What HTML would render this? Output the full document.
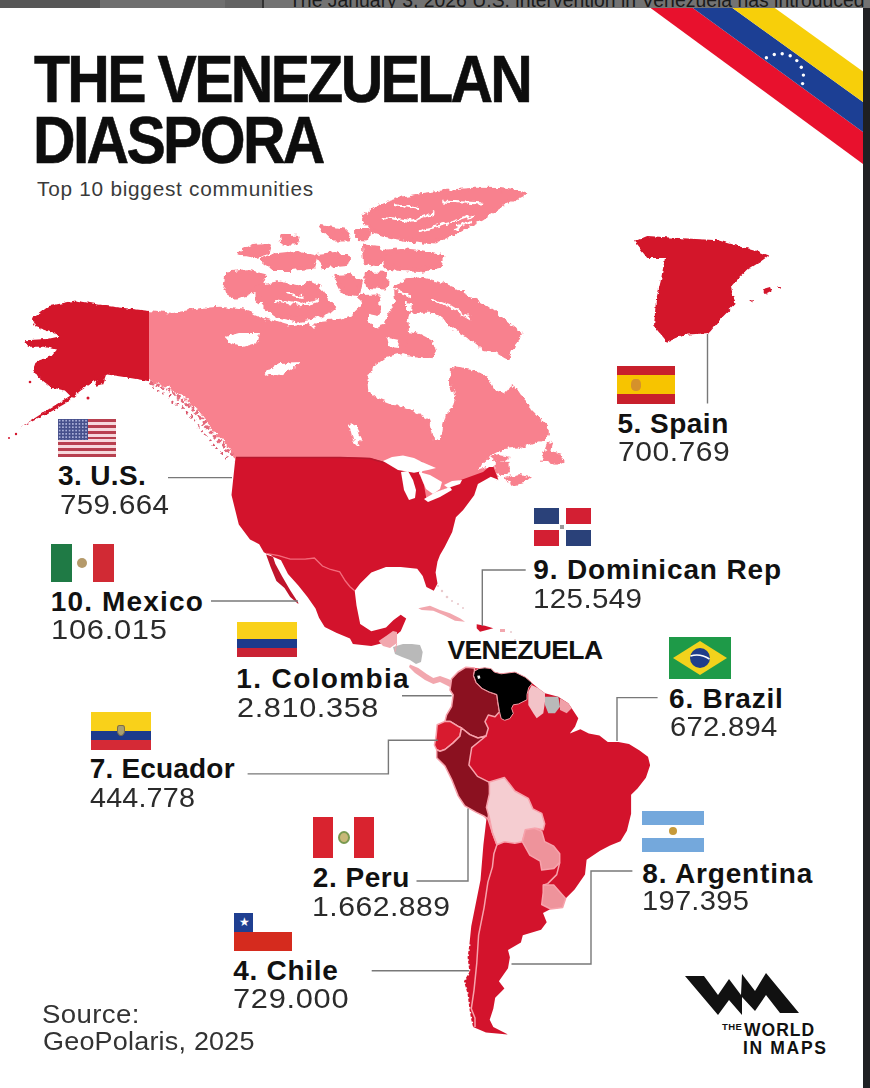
<!DOCTYPE html>
<html><head><meta charset="utf-8">
<style>
html,body{margin:0;padding:0;background:#fff;}
body{width:870px;height:1088px;position:relative;overflow:hidden;font-family:"Liberation Sans",sans-serif;}
.t{position:absolute;white-space:nowrap;line-height:1;}
.lb{font-weight:bold;font-size:27px;color:#111;letter-spacing:0.4px;}
.nm{font-size:27px;color:#2a2a2a;letter-spacing:1.5px;}
.flag{position:absolute;overflow:hidden;}
svg{position:absolute;left:0;top:0;}
</style></head><body>
<!-- top bar -->
<div style="position:absolute;left:0;top:0;width:870px;height:8px;background:linear-gradient(90deg,#575757 0 100px,#6f6f6f 100px 225px,#636363 225px 262px,#333 262px 264px,#737373 264px);overflow:hidden;">
  <div class="t" style="left:289px;top:-8.6px;font-size:19.4px;color:#1a1a1a;">The January 3, 2026 U.S. intervention in Venezuela has introduced</div>
</div>
<div style="position:absolute;left:863px;top:8px;width:7px;height:1080px;background:#1f2023;"></div>

<svg width="870" height="1088" viewBox="0 0 870 1088" id="map">
  <!-- Venezuela ribbon -->
  <g>
    <polygon points="650.6,8 692.9,8 863,132 863,164" fill="#e8112d"/>
    <polygon points="692.9,8 732.5,8 863,102 863,132" fill="#1c3f94"/>
    <polygon points="732.5,8 774.8,8 863,71.4 863,102" fill="#f7cf0a"/>
    <g fill="#fff"><circle cx="766.4" cy="57.7" r="1.7"/><circle cx="774.3" cy="54.5" r="1.7"/><circle cx="782.2" cy="53.7" r="1.7"/><circle cx="790.2" cy="55.8" r="1.7"/><circle cx="796.8" cy="60.6" r="1.7"/><circle cx="801.3" cy="67.2" r="1.7"/><circle cx="803.4" cy="75.1" r="1.7"/><circle cx="802.6" cy="83.6" r="1.7"/></g>
  </g>
  <!--MAP-->
<defs><filter id="rag" x="-5%" y="-5%" width="110%" height="110%"><feTurbulence type="fractalNoise" baseFrequency="0.15" numOctaves="3" seed="4"/><feDisplacementMap in="SourceGraphic" scale="7" xChannelSelector="R" yChannelSelector="G"/></filter>
<clipPath id="cE"><rect x="149" y="0" width="721" height="1088"/></clipPath><clipPath id="cW"><rect x="0" y="0" width="149" height="1088"/></clipPath><filter id="rag2" x="-5%" y="-5%" width="110%" height="110%"><feTurbulence type="fractalNoise" baseFrequency="0.2" numOctaves="2" seed="9"/><feDisplacementMap in="SourceGraphic" scale="4" xChannelSelector="R" yChannelSelector="G"/></filter></defs>
<g clip-path="url(#cE)"><g filter="url(#rag)">
<polygon points="143,310 149,310 173,313 200,308 220,306.7 243,309.5 266,318.7 289,325.6 307.4,323.3 312,328 318.9,321 339.5,318.7 353.3,314.1 362.5,305 376.3,311.8 385.5,318.7 391,310 395,300 393.5,285.5 405.9,278.3 422.4,277.2 439,281.4 453.5,287.6 470,295.9 484.5,304.1 499,314.5 511.4,324.8 523.5,334.5 515,345 509,360 509,368 505,372 511,385 517.2,389.3 525.5,401.7 533.8,412 540,418.3 549.8,428.3 549.8,436.3 540.1,441.2 530.5,444.4 517.6,447.6 503.1,449.2 491.8,455.6 482.2,463.7 479,470.1 487,466.9 493.5,466.9 498.3,479.8 489,472 483,477 459.5,485.5 448.5,492.8 440,496 426.4,503.8 424,490 419,478 422.7,467 400.7,461.5 384,467 370,463 340,462 236.6,462 234,457 228.3,447.2 217.2,434.8 209,425.2 199.3,411.4 188.3,401.7 174.5,390.7 160.7,383.8 149,381 143,381" fill="#f8818e" />
<polygon points="409.7,312.8 432.4,312.8 447,323 457.2,331.4 467.6,337.6 484,350 494.5,352 504.8,358.3 509,360 530,350 530,380 511,385.2 504.8,393.5 494.5,389.3 488.3,377 475.9,370.7 463.5,368.6 451,367 450,381 455,398 452,408 446,414 443,426 440.5,441 433,440 429,420 415,412 393,404 376.6,397.5 368.3,391 367.5,381 373.5,367 384.8,358.3 401.4,354.2 413.8,356.3 432.4,358.3 436,352 432,340 420,334 408,332 407.6,320" fill="#fff" />
<polygon points="407.6,339.7 420,336 432.4,343 434,352 428,358 413.8,356 405,350" fill="#f8818e" />
<polygon points="387,337.6 399,340 398,348 389,347" fill="#fff" />
<polygon points="406,302 412,303 411,311 406,310" fill="#fff" />
<polygon points="368,306 380,302 387,310 385,325 375,328 368,320" fill="#fff" />
<polygon points="490,457 500,455 511,457 505,461 495,461" fill="#f8818e" />
<polygon points="495,461 509.5,462 510,474 500,476 494,470" fill="#f8818e" />
<polygon points="504.7,478 520,474 531,477 524,483 510,486" fill="#f8818e" />
<polygon points="540.1,462.1 546.6,444.4 553,441.2 551.4,450.8 561,454 562.6,460.5 556.2,463.7 546.6,462.1" fill="#f8818e" />
<polyline points="150,383 161,386.5 173,393 186,403.5 197,413 207,427 215,436.5 226,449 234,457" fill="none" stroke="#e46a7c" stroke-width="3.5" stroke-dasharray="4 2"/>
<polyline points="152,388 160,392 170,398 182,408 192,417 201,430 209,440 218,450 226,459" fill="none" stroke="#d9556a" stroke-width="2" stroke-dasharray="2 4"/>
<polygon points="364,217 374,209 387.6,203.4 405,198 418.8,195.6 445,192 473.5,189.8 500,190 524.3,193.7 505,203 481.4,219 465,227 450,234.7 434.5,242.5 418,241 403.2,238.6 385,235 372,230.8" fill="#f8818e" stroke="#f8818e" stroke-width="4" stroke-linejoin="round"/>
<polygon points="383.7,252 400,250 420,252 442.3,256 440,266 420,270 400,269 386,266" fill="#f8818e" stroke="#f8818e" stroke-width="4" stroke-linejoin="round"/>
<polygon points="239,252.9 252.9,246 269,244.8 266.7,252.9 255.2,256.3" fill="#f8818e" stroke="#f8818e" stroke-width="4" stroke-linejoin="round"/>
<polygon points="262,259.8 275.9,255.2 296.6,252.9 315,257.5 312.6,266.7 292,269 273.6,269" fill="#f8818e" stroke="#f8818e" stroke-width="4" stroke-linejoin="round"/>
<polygon points="282,237 297.7,236.7 296,242.5 283,242.5" fill="#f8818e" stroke="#f8818e" stroke-width="4" stroke-linejoin="round"/>
<polygon points="321,227 344.6,230.8 348.5,238.6 332.9,238.6" fill="#f8818e" stroke="#f8818e" stroke-width="4" stroke-linejoin="round"/>
<polygon points="317,256 335,254 348,258 346,264 325,266" fill="#f8818e" stroke="#f8818e" stroke-width="4" stroke-linejoin="round"/>
<polygon points="356,231 368,231 367,238.6 357,238" fill="#f8818e" stroke="#f8818e" stroke-width="4" stroke-linejoin="round"/>
<polygon points="364,246.4 380,248 383.7,258 376,264 365,262" fill="#f8818e" stroke="#f8818e" stroke-width="4" stroke-linejoin="round"/>
<polygon points="227.6,273.6 246,271.3 264.4,275.9 259.8,287.4 246,294.3 234.5,296.6 225.3,289.7" fill="#f8818e" stroke="#f8818e" stroke-width="4" stroke-linejoin="round"/>
<polygon points="257.5,287.4 280.5,282.8 303.4,287.4 310.3,282.8 319.5,287.4 324.1,296.6 335.6,308 319.5,315 296.6,319.5 275.9,315 264.4,305.7 257.5,296.6" fill="#f8818e" stroke="#f8818e" stroke-width="4" stroke-linejoin="round"/>
<polygon points="335.6,277 350,276 361,282 358,294 343,292" fill="#f8818e" stroke="#f8818e" stroke-width="4" stroke-linejoin="round"/>
<polygon points="365.5,274 386,273.6 385,287.4 368,286" fill="#f8818e" stroke="#f8818e" stroke-width="4" stroke-linejoin="round"/>
<polygon points="361,297 378,296.6 379,315 364,312" fill="#f8818e" stroke="#f8818e" stroke-width="4" stroke-linejoin="round"/>
<g fill="none" stroke="#fff" stroke-width="2.2" stroke-linecap="round"><polyline points="383.7,217 411,221 434.5,213"/><polyline points="418.8,231 450,223 473.5,215"/><polyline points="395.4,204 418.8,209"/><polyline points="442.3,201.5 481.4,203.4"/><polyline points="455,228 470,222"/><polyline points="286,293 301.6,297"/><polyline points="275,300 300,305 318,300"/><polyline points="395,290 410,296"/><polyline points="432,300 450,306 470,318"/></g>
<polygon points="225,337 240,333 260,333 257,343 243,347 230,343" fill="#fff" />
<polygon points="263,373 280,363 300,362 290,370 273,377" fill="#fff" />
<polygon points="349,424 353.5,423 361,438 359,446 353,440" fill="#fff" />
</g></g>
<g clip-path="url(#cW)"><g filter="url(#rag2)"><polygon points="31.9,319 49,305.9 75.5,300.6 107.2,305.9 149.5,311.1 158,311 158,381 149.5,381.2 125.7,377.2 107.2,374.6 96.7,379.9 80.8,390.4 64.9,403.7 46.4,414.2 20,427.5 49,409 70.2,395.7 64.9,390.4 51.7,387.8 38.5,377.2 33.2,369.3 35.9,361.4 51.7,356.1 57,349.5 43.8,346.8 27.9,346.8 25.3,340.2 46.4,338.9 59.7,336.3 54.4,333.6 35.9,327" fill="#d3132c" />
<polygon points="97,377 106,376 103,384 95,386" fill="#d3132c" />
</g></g><g fill="#d3132c"><circle cx="30" cy="382" r="1.3"/><circle cx="16" cy="434" r="1.2"/><circle cx="9" cy="438" r="1"/><circle cx="88" cy="398" r="1.5"/></g>
<polygon points="236,457 340,457 370,458 384,462 400.7,456.5 422.7,462 419,473 424,485 426.4,498.8 440,491 448.5,487.8 459.5,480.5 483,472 489,467 493.5,466.9 498.3,479.8 490.8,476.8 477.9,484.1 474.2,495.2 463.2,509.9 455.9,517.2 452.2,532 444.8,546.7 440,555 437.5,561.4 435.6,572.4 437.5,583.4 433.8,590.8 426.4,587.1 422.7,576 417.2,568.7 400.7,566.9 386,566.9 371.3,572.4 360.2,583.4 354.7,590.8 350,586.7 345.4,581 339.7,571.8 330.5,569.5 322.4,566 314.4,558 305.2,559.1 290.2,559.1 278.7,555.7 266.1,553.4 263.8,552.2 259.2,544.2 250,539.6 238.8,524.6 231.5,495 235,462" fill="#d3132c" />
<polyline points="236,457.5 340,457.5 370,458.5 384,462.5" fill="none" stroke="#b8182e" stroke-width="1.6"/>
<polygon points="383,461 392,457 403,455.5 414,458 422,462 436,468 428,470 414,472.7 398,470" fill="#fff" />
<polygon points="401,472 408,471 413,480 416,490 415,498 409,500 404,490" fill="#fff" />
<polygon points="419,472 430,475 442,482 440,489 433,494 426,489 423,482" fill="#fff" />
<polygon points="424,499 436,492 450,487 452,490 440,497 428,502" fill="#fff" />
<polygon points="444,485 452,481 462,480 460,484 448,488" fill="#fff" />
<polygon points="264.5,550 266.1,553.4 278.7,555.7 290.2,559.1 305.2,559.1 314.4,558 322.4,566 330.5,569.5 339.7,571.8 345.4,581 350,586.7 354.7,590.8 356.5,605.5 360.2,623.9 371.3,631.3 386,627.6 393.3,620.2 400.7,614.7 406.2,618.4 400.7,631.3 389.6,640.4 386,642.3 371.3,646 352.9,644.1 350,638.4 336.2,632.7 324.7,627 319,617.8 315.5,608.6 307.5,597.1 298.3,585.6 288,574 281,560.3 273,556.8" fill="#d3132c" />
<polygon points="266.1,554.5 270.7,567.2 276.4,581 284.5,587.9 290.2,597.1 298.3,604 298.3,602.8 290.2,590.2 282.2,576.4 275.3,563.7 273,556.8" fill="#c0142c" />
<polyline points="266.1,553.4 278.7,555.7 290.2,559.1 305.2,559.1 314.4,558 322.4,566 330.5,569.5 339.7,571.8 345.4,581 350,586.7 354.7,590.8" fill="none" stroke="#f36a7b" stroke-width="1.3"/>
<polygon points="378.6,641 386,636 393,631 397,632 397,643 390,648 383,646" fill="#f2a7ae" />
<polygon points="393,647 403,644 412,644 420,645 422.7,652 421,662 416,664 410,660 402,657 395,654" fill="#b9b9b9" />
<polygon points="410,664.4 418.3,668 426.7,674 433.3,678 440,676 448.3,679 459.5,684 456,690 448,686 440,682 433.3,684 425,680 415,673 409,667" fill="#f2a7ae" />
<polygon points="418.3,608.3 430,605.8 440,610 450,613.3 460,618.3 465,621.7 455,620.8 445,615.8 433.3,610.8 421.7,610" fill="#f2a7ae" />
<polygon points="476.7,624.2 485,625.8 493.3,628.3 486.7,630 480,631.7 476.7,628.3" fill="#d3132c" />
<polygon points="500,629 505,629 505,632 500,632" fill="#f2a7ae" />
<g fill="#e9c9cc"><circle cx="442" cy="591" r="1.2"/><circle cx="447" cy="597" r="1.3"/><circle cx="452" cy="601" r="1"/><circle cx="458" cy="604" r="1.1"/><circle cx="438" cy="586" r="1"/><circle cx="463" cy="608" r="1"/><circle cx="511" cy="632" r="1"/><circle cx="515" cy="640" r="1"/><circle cx="517" cy="648" r="1"/></g>
<polyline points="396.7,643.3 395,651.7" fill="none" stroke="#f7a3ac" stroke-width="1"/>
<polygon points="450,690 451.6,678.7 458,672 466,667.2 474.5,668 478.8,668.6 484.8,667.8 490.9,668.6 494.3,672.1 501.2,673.8 508.1,672.9 515,672.1 520.2,674.7 525.3,677.2 530.5,681.6 532.2,683.3 538.3,688.3 545,693.3 558.3,696.7 568.3,703.3 571.7,708.3 578.3,718.3 575,726.7 569.8,733.4 580.4,729.2 588.8,733.4 599.4,735.6 607.8,741.9 618.4,741.9 629,744 639.6,750.4 648,756.7 650.1,765.2 645.9,777.8 637.5,788.4 631.1,794.8 631.1,813.8 626.9,830.7 620.5,841.3 610,845.5 600,850.7 586.6,859.7 585,874.6 574.6,889.5 565.6,898.5 562.6,907.5 550.7,909 543,913.1 546.7,922.3 541.1,929.7 522.8,935.2 520.9,942.5 508,949.9 509.9,957.2 508,968.3 498.9,981.2 504.4,988.5 495.2,997.7 493.3,1008.7 489.7,1019.8 493.3,1027.1 508,1034.5 486,1032.6 473.1,1027.1 471.3,1019.8 469.4,1008.7 467.6,994 464,981.2 469.4,972 467.6,957.2 469.4,944.4 471.3,926 476.8,898.4 480.5,880 483.4,844.7 486.4,819.3 483.7,815.9 476.4,812.4 464.8,805.8 458.2,795.9 451.6,779.3 445,766 436.7,757.8 436.7,749.8 434.4,745 436,737 437.2,724.7 445,721.4 446.6,714.8 451.6,706.5 453.2,694.9" fill="#d3132c" />
<polygon points="450,690 451.6,678.7 458,672 466,667.2 474.5,668 474.5,671.2 473.6,675.5 476.2,682.4 482.2,688.4 489.1,691.9 496.9,694.5 497.8,701.4 499.5,711.7 495,716.7 488.3,715 485,721.7 488.3,728.3 486,736 478,738 469.8,734.6 461.5,728 458.2,726.3 450,721.4 445,721.4 446.6,714.8 451.6,706.5 453.2,694.9" fill="#8b1120" stroke="#f7a3ac" stroke-width="1.5" stroke-linejoin="round"/>
<polygon points="437.2,724.7 445,721.4 450,721.4 458.2,726.3 461.5,728 459.9,736.3 453.2,742.9 445,749.5 440,751.2 436.7,749.8 434.4,745 436,737" fill="#d81b2f" stroke="#f7a3ac" stroke-width="1.5" stroke-linejoin="round"/>
<polygon points="440,751.2 445,749.5 453.2,742.9 459.9,736.3 461.5,728 469.8,734.6 478,738 486,736 471.7,747.7 468.9,765 477.5,776.4 489,782.2 491.3,794.2 489.7,805.8 488,819 483.7,815.9 476.4,812.4 464.8,805.8 458.2,795.9 451.6,779.3 445,766 436.7,757.8 436.7,749.8" fill="#8b1120" stroke="#f7a3ac" stroke-width="1.5" stroke-linejoin="round"/>
<polyline points="469.4,944.4 467.6,957.2 469.4,972 464,981.2 467.6,994 469.4,1008.7 471.3,1019.8 473.1,1027.1" fill="none" stroke="#fff" stroke-width="2.2" stroke-dasharray="1.5 3.5"/>
<polygon points="474.5,671.2 478.8,668.6 484.8,667.8 490.9,668.6 494.3,672.1 501.2,673.8 508.1,672.9 515,672.1 520.2,674.7 525.3,677.2 530.5,681.6 532.2,683.3 528.8,687.6 527,694.5 527,699.7 518.4,704 513.3,704.8 511.6,708.3 513.3,713.4 509.8,718.6 504.7,720.3 501.2,718.6 499.5,711.7 497.8,701.4 496.9,694.5 489.1,691.9 482.2,688.4 476.2,682.4 473.6,675.5" fill="#000" stroke="#f39aa3" stroke-width="1"/>
<polygon points="477.2,675.8 479.8,675.4 480.4,678.2 478,679" fill="#f4f4f4" />
<polygon points="531.7,685 538.3,688.3 545,693.3 545,701.7 543.3,713.3 536.7,718.3 533.3,713.3 528.3,705 528.3,691.7" fill="#f3c3c8" />
<polygon points="545,696.7 558.3,696.7 560,706.7 555,713.3 548.3,713.3 545,705" fill="#b9b9b9" />
<polygon points="560,698.3 568.3,703.3 571.7,708.3 566.7,713.3 560,710" fill="#f0a0a8" />
<polygon points="489.4,782 504.4,777.5 510.3,785 514.8,791 528.3,798.4 532.8,808.9 541.7,813.3 544.7,823.8 543.2,829.8 535.7,828.3 525.3,831.3 522.3,841.7 514.8,843.2 504.4,841.7 496.9,844.7 492.4,832.8 489.4,817.8 486.4,807.4 489.4,794" fill="#f5cdd1" stroke="#f7a3ac" stroke-width="1.5" stroke-linejoin="round"/>
<polygon points="525.3,829.8 534.3,828.3 541.7,831.3 544.7,841.7 553.7,846.2 559.7,853.7 559.7,862.6 553.7,868.6 541.7,870.1 540.2,861.2 529.8,855.2 522.3,841.7" fill="#ee939b" stroke="#f7a3ac" stroke-width="1.5" stroke-linejoin="round"/>
<polygon points="543.2,885.1 553.7,885.1 565.6,898.5 562.6,907.5 550.7,909 541.7,904.5 543.2,892.5" fill="#ee939b" stroke="#f7a3ac" stroke-width="1.5" stroke-linejoin="round"/>
<polyline points="488,819 492.4,832.8 496.9,844.7 493.9,853.7 492.4,867.1 487.9,882.1 484.1,907.6 478.6,935.2 476.8,962.8 474,990.3 471.3,1008.7 475,1018 475,1027" fill="none" stroke="#f7a3ac" stroke-width="1.5" stroke-linejoin="round"/>
<polyline points="559.7,862.6 556.7,874.6 547.7,883.6 543.2,885.1" fill="none" stroke="#f7a3ac" stroke-width="1.5" stroke-linejoin="round"/>
<g filter="url(#rag2)"><polygon points="634,241.6 647.3,236 678,238 717.9,240.3 757.5,251.3 768.6,255.7 760,262 748.7,269 737,280 731,286.6 735.5,304 722,317.5 709,333 682.6,335 667,341.7 654,326 656,300 660.5,282 665,258 647.3,258" fill="#d3132c" />
<polygon points="763,289 770,287 772,292 766,295" fill="#d3132c" />
<polygon points="777,286 782,286 781,289" fill="#d3132c" />
<polygon points="749,301 753,300 752,303" fill="#d3132c" />
</g><!--/MAP-->
  <!-- leader lines -->
  <g stroke="#787878" stroke-width="1.4" fill="none">
    <polyline points="168,477.6 232,477.6"/>
    <polyline points="211,601 298,601"/>
    <polyline points="402,695.7 451.6,695.7"/>
    <polyline points="247.6,773.9 388.4,773.9 388.4,740.3 437.8,740.3"/>
    <polyline points="416.5,881 468,881 468,808.6"/>
    <polyline points="371.7,970.7 469,970.7"/>
    <polyline points="707.5,334 707.5,403.5"/>
    <polyline points="525.7,570 482.3,570 482.3,626"/>
    <polyline points="657.6,697.6 617,697.6 617,741"/>
    <polyline points="632.4,871 591,871 591,964 511.5,964"/>
  </g>
  <!-- logo -->
  <polygon points="685,976 704,976 718,995 729,979 741,995 742,974 755,991 766,973 799,1013 780,1013 766,995 755,1011 742,997 742,1015 729,1000 718,1015" fill="#111"/>
</svg>

<!-- title -->
<div class="t" style="left:34px;top:46.2px;font-size:66px;font-weight:bold;color:#0d0d0d;letter-spacing:-3px;-webkit-text-stroke:0.6px #0d0d0d;transform:scaleX(0.893);transform-origin:0 0;">THE VENEZUELAN</div>
<div class="t" style="left:33px;top:107.4px;font-size:66px;font-weight:bold;color:#0d0d0d;letter-spacing:-3px;-webkit-text-stroke:0.6px #0d0d0d;transform:scaleX(0.893);transform-origin:0 0;">DIASPORA</div>
<div class="t" style="left:722px;top:1022.3px;font-size:9.5px;letter-spacing:0.4px;font-weight:bold;color:#111;">THE</div>
<!-- labels -->
<div class="t" style="left:58.0px;top:461.8px;font-size:28px;letter-spacing:0.35px;color:#111;font-weight:bold;">3. U.S.</div>
<div class="t" style="left:60.1px;top:491.1px;font-size:28px;letter-spacing:0.36px;color:#2b2b2b;transform:scaleX(1.0532);transform-origin:0 0;">759.664</div>
<div class="t" style="left:50.7px;top:587.7px;font-size:28px;letter-spacing:1.17px;color:#111;font-weight:bold;">10. Mexico</div>
<div class="t" style="left:50.5px;top:616.0px;font-size:28px;letter-spacing:0.65px;color:#2b2b2b;transform:scaleX(1.1021);transform-origin:0 0;">106.015</div>
<div class="t" style="left:236.3px;top:665.3px;font-size:28px;letter-spacing:1.37px;color:#111;font-weight:bold;">1. Colombia</div>
<div class="t" style="left:237.2px;top:694.4px;font-size:28px;letter-spacing:0.57px;color:#2b2b2b;transform:scaleX(1.0952);transform-origin:0 0;">2.810.358</div>
<div class="t" style="left:89.7px;top:755.3px;font-size:28px;letter-spacing:0.19px;color:#111;font-weight:bold;">7. Ecuador</div>
<div class="t" style="left:89.7px;top:783.8px;font-size:28px;letter-spacing:0.18px;color:#2b2b2b;transform:scaleX(1.0255);transform-origin:0 0;">444.778</div>
<div class="t" style="left:312.8px;top:864.0px;font-size:28px;letter-spacing:0.53px;color:#111;font-weight:bold;">2. Peru</div>
<div class="t" style="left:312.0px;top:892.6px;font-size:28px;letter-spacing:0.46px;color:#2b2b2b;transform:scaleX(1.0764);transform-origin:0 0;">1.662.889</div>
<div class="t" style="left:233.3px;top:956.5px;font-size:28px;letter-spacing:0.7px;color:#111;font-weight:bold;">4. Chile</div>
<div class="t" style="left:233.1px;top:985.0px;font-size:28px;letter-spacing:0.64px;color:#2b2b2b;transform:scaleX(1.0997);transform-origin:0 0;">729.000</div>
<div class="t" style="left:617.4px;top:410.2px;font-size:28px;letter-spacing:0.5px;color:#111;font-weight:bold;">5. Spain</div>
<div class="t" style="left:618.2px;top:437.6px;font-size:28px;letter-spacing:0.48px;color:#2b2b2b;transform:scaleX(1.0735);transform-origin:0 0;">700.769</div>
<div class="t" style="left:533.3px;top:556.2px;font-size:28px;letter-spacing:0.85px;color:#111;font-weight:bold;">9. Dominican Rep</div>
<div class="t" style="left:532.8px;top:584.6px;font-size:28px;letter-spacing:0.36px;color:#2b2b2b;transform:scaleX(1.0543);transform-origin:0 0;">125.549</div>
<div class="t" style="left:669.1px;top:685.0px;font-size:28px;letter-spacing:0.8px;color:#111;font-weight:bold;">6. Brazil</div>
<div class="t" style="left:669.7px;top:712.6px;font-size:28px;letter-spacing:0.29px;color:#2b2b2b;transform:scaleX(1.0427);transform-origin:0 0;">672.894</div>
<div class="t" style="left:642.3px;top:859.8px;font-size:28px;letter-spacing:0.84px;color:#111;font-weight:bold;">8. Argentina</div>
<div class="t" style="left:642.2px;top:887.2px;font-size:28px;letter-spacing:0.26px;color:#2b2b2b;transform:scaleX(1.0393);transform-origin:0 0;">197.395</div>
<div class="t" style="left:447.5px;top:636.9px;font-size:26.5px;letter-spacing:-0.62px;color:#111;font-weight:bold;">VENEZUELA</div>
<div class="t" style="left:42.2px;top:1001.2px;font-size:26px;letter-spacing:0.35px;color:#333;transform:scaleX(1.0618);transform-origin:0 0;">Source:</div>
<div class="t" style="left:43.3px;top:1027.9px;font-size:26px;letter-spacing:0.2px;color:#333;transform:scaleX(1.0373);transform-origin:0 0;">GeoPolaris, 2025</div>
<div class="t" style="left:37.1px;top:178.9px;font-size:20.8px;letter-spacing:0.73px;color:#3a3a3a;">Top 10 biggest communities</div>
<div class="t" style="left:744.0px;top:1022.3px;font-size:17.5px;letter-spacing:1.0px;color:#111;font-weight:bold;">WORLD</div>
<div class="t" style="left:743.0px;top:1040.3px;font-size:17.5px;letter-spacing:1.67px;color:#111;font-weight:bold;">IN MAPS</div>
<!-- flags -->
<!-- US -->
<div class="flag" style="left:58px;top:419px;width:58px;height:38px;background:repeating-linear-gradient(#b8404f 0 2.92px,#f6d9dc 2.92px 5.85px);">
  <div style="position:absolute;left:0;top:0;width:30px;height:20.5px;background:#46508c;background-image:radial-gradient(circle,#aab0d8 0.8px,transparent 1px);background-size:3.3px 3.3px;"></div>
</div>
<!-- Mexico -->
<div class="flag" style="left:51px;top:544px;width:63px;height:38px;background:linear-gradient(90deg,#1f7a45 0 33.3%,#fff 33.3% 66.6%,#d12a34 66.6%);">
  <div style="position:absolute;left:26px;top:14px;width:10px;height:10px;border-radius:50%;background:#b59a6a;"></div>
</div>
<!-- Colombia -->
<div class="flag" style="left:236.5px;top:622px;width:60.5px;height:35px;background:linear-gradient(#f9d11a 0 50%,#1d3a8c 50% 75%,#ca2234 75%);"></div>
<!-- Ecuador -->
<div class="flag" style="left:90.5px;top:712px;width:60px;height:38px;background:linear-gradient(#f9d11a 0 50%,#1d3a8c 50% 75%,#d52a36 75%);">
  <div style="position:absolute;left:26px;top:13px;width:8px;height:11px;border-radius:30% 30% 50% 50%;border:1.5px solid #7d6d4a;box-sizing:border-box;background:#a8a070;"></div>
</div>
<!-- Peru -->
<div class="flag" style="left:313px;top:817px;width:61px;height:41px;background:linear-gradient(90deg,#d9232f 0 33.3%,#fff 33.3% 66.6%,#d9232f 66.6%);">
  <div style="position:absolute;left:24.5px;top:14px;width:12px;height:13px;border-radius:50%;border:2px solid #7a9a50;box-sizing:border-box;background:#c8b878;"></div>
</div>
<!-- Chile -->
<div class="flag" style="left:234px;top:913px;width:58px;height:38px;background:linear-gradient(#fff 0 50%,#d52b1e 50%);">
  <div style="position:absolute;left:0;top:0;width:19px;height:19px;background:#1f3f91;"></div>
  <div style="position:absolute;left:5px;top:2px;color:#fff;font-size:12px;line-height:14px;">★</div>
</div>
<!-- Spain -->
<div class="flag" style="left:617px;top:366px;width:58px;height:38px;background:linear-gradient(#c8202c 0 25%,#f7c400 25% 75%,#c8202c 75%);">
  <div style="position:absolute;left:14px;top:13px;width:10px;height:12px;border-radius:40%;background:#c9803a;opacity:.75"></div>
</div>
<!-- DR -->
<div class="flag" style="left:533.5px;top:508px;width:57.5px;height:37.5px;background:#fff;">
  <div style="position:absolute;left:0;top:0;width:25.5px;height:15.5px;background:#2a4179;"></div>
  <div style="position:absolute;left:32px;top:0;width:25.5px;height:15.5px;background:#d31f33;"></div>
  <div style="position:absolute;left:0;top:21.5px;width:25.5px;height:16px;background:#d31f33;"></div>
  <div style="position:absolute;left:32px;top:21.5px;width:25.5px;height:16px;background:#2a4179;"></div>
  <div style="position:absolute;left:26.5px;top:16.5px;width:4px;height:4px;background:#9a9a9a;"></div>
</div>
<!-- Brazil -->
<div class="flag" style="left:669px;top:637px;width:62px;height:42px;background:#1e9a48;">
  <svg width="62" height="42" style="position:absolute;left:0;top:0"><polygon points="31,4 58,21 31,38 4,21" fill="#f2d21c"/><circle cx="31" cy="21" r="10" fill="#1f3d8a"/><path d="M21.5,19 Q31,16 40.5,22" stroke="#fff" stroke-width="1.5" fill="none"/></svg>
</div>
<!-- Argentina -->
<div class="flag" style="left:642px;top:811px;width:62px;height:41px;background:linear-gradient(#74a8dc 0 33.3%,#fff 33.3% 66.6%,#74a8dc 66.6%);">
  <div style="position:absolute;left:27px;top:16px;width:8px;height:8px;border-radius:50%;background:#c79a3a;"></div>
</div>
</body></html>
